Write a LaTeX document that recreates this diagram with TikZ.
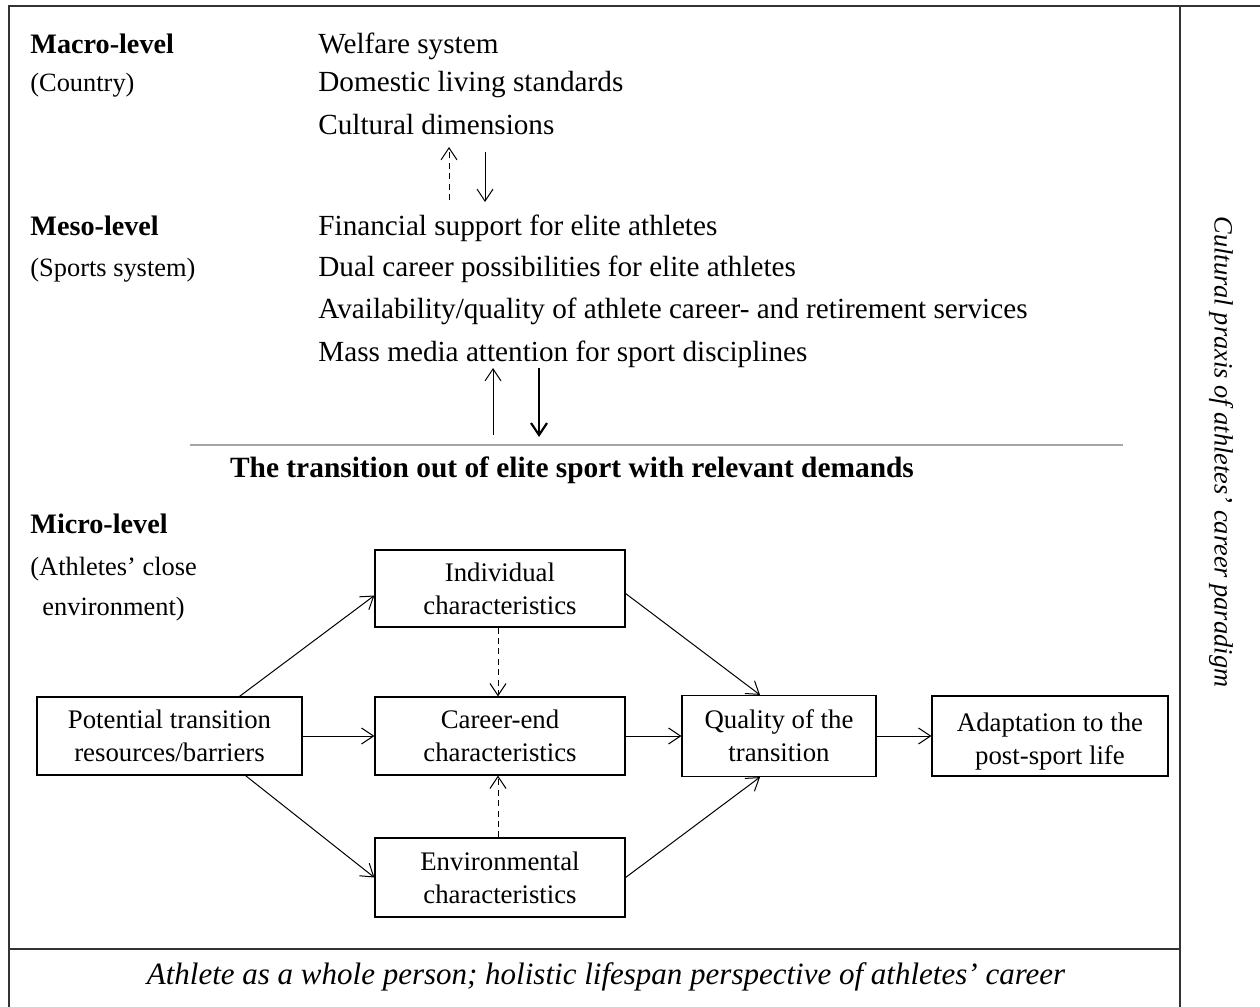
\documentclass[tikz,border=0pt]{standalone}
\usepackage{fontspec}
\setmainfont{Liberation Serif}
\usetikzlibrary{arrows.meta,calc}
\tikzset{
  x=0.5pt, y=-0.5pt,
  txt/.style={anchor=base west, inner sep=0pt, font=\fontsize{14.6}{16}\selectfont},
  lbl/.style={anchor=base west, inner sep=0pt, font=\fontsize{13.2}{15}\selectfont},
  hd/.style={anchor=base west, inner sep=0pt, font=\fontsize{14.1}{16}\selectfont\bfseries},
  box/.style={draw, line width=0.6pt, inner sep=0pt, align=center,
    font=\fontsize{13.4}{16.5}\selectfont},
  boxtext/.style={inner sep=0pt, align=center, font=\fontsize{13.4}{16.5}\selectfont},
  arr/.style={line width=0.5pt, -{Straight Barb[length=6pt,width=8pt]}},
  darr/.style={arr, dash pattern=on 3pt off 2.2pt},
  frame/.style={line width=0.9pt, draw=black!80}
}
\begin{document}
\begin{tikzpicture}
\useasboundingbox (0,0) rectangle (1260,1007);
% frame
\draw[frame] (9,1015) -- (9,6) -- (1265,6);
\draw[frame] (1180,6) -- (1180,1015);
\draw[frame] (9,949) -- (1180,949);
% side and bottom text
\node[rotate=-90, inner sep=0pt, font=\fontsize{13.2}{15}\selectfont\itshape] (side) at (1221,452) {Cultural praxis of athletes’ career paradigm};
\node[inner sep=0pt, font=\fontsize{15.5}{17}\selectfont\itshape] (bottom) at (606,977) {Athlete as a whole person; holistic lifespan perspective of athletes’ career};
% macro
\node[hd] (macro) at (30,53) {Macro-level};
\node[lbl] (country) at (30,91) {(Country)};
\node[txt] (welfare) at (318,53) {Welfare system};
\node[txt] (domestic) at (318,91) {Domestic living standards};
\node[txt] (cultural) at (318,134) {Cultural dimensions};
% meso
\node[hd] (meso) at (30,235) {Meso-level};
\node[lbl] (sports) at (30,276) {(Sports system)};
\node[txt] (financial) at (318,235) {Financial support for elite athletes};
\node[txt] (dual) at (318,276) {Dual career possibilities for elite athletes};
\node[txt] (avail) at (318,318) {Availability/quality of athlete career- and retirement services};
\node[txt] (media) at (318,361) {Mass media attention for sport disciplines};
% arrows between levels
\coordinate (a1s) at (449,200); \coordinate (a1e) at (449,147);
\coordinate (a2s) at (485,152); \coordinate (a2e) at (485,202);
\coordinate (a3s) at (493,435); \coordinate (a3e) at (493,368);
\coordinate (a4s) at (539,368); \coordinate (a4e) at (539,437);
\draw[darr] (a1s) -- (a1e);
\draw[arr] (a2s) -- (a2e);
\draw[arr] (a3s) -- (a3e);
\draw[arr, line width=1.1pt] (a4s) -- (a4e);
% gray line
\coordinate (gl) at (190,445); \coordinate (gr) at (1123,445);
\draw[black!35, line width=0.6pt] (gl) -- (gr);
\node[inner sep=0pt, font=\fontsize{14.7}{16}\selectfont\bfseries] (trans) at (572,470) {The transition out of elite sport with relevant demands};
% micro
\node[hd] (micro) at (30,533) {Micro-level};
\node[lbl] (close) at (30,575) {(Athletes’ close};
\node[lbl] (envt) at (42,615) {environment)};
% boxes
\node[box, minimum width=125pt, minimum height=38.5pt] (ind) at (500,588.5) {Individual\\characteristics};
\node[box, minimum width=132.5pt, minimum height=39pt] (pot) at (169.5,736) {Potential transition\\resources/barriers};
\node[box, minimum width=125pt, minimum height=39pt] (car) at (500,736) {Career-end\\characteristics};
\node[box, minimum width=97pt, minimum height=40.5pt] (qual) at (779,736) {Quality of the\\transition};
\node[box, minimum width=118pt, minimum height=40pt] (adap) at (1050,736) {};
\node[boxtext] (adaptxt) at ($(adap.center)+(0,6)$) {Adaptation to the\\post-sport life};
\node[box, minimum width=125pt, minimum height=39.5pt] (env) at (500,877.5) {Environmental\\characteristics};
% connectors
\draw[arr] ($(pot.north)+(70,0)$) -- ($(ind.west)+(0,7)$);
\draw[arr] (pot.east) -- (car.west);
\draw[arr] ($(pot.south)+(76,0)$) -- (env.west);
\draw[arr] ($(ind.east)+(0,5)$) -- ($(qual.north)+(-19,0)$);
\draw[arr] (car.east) -- (qual.west);
\draw[arr] (env.east) -- ($(qual.south)+(-19,0)$);
\draw[arr] (qual.east) -- (adap.west);
\draw[darr] ($(ind.south)+(-2,0)$) -- ($(car.north)+(-2,0)$);
\draw[darr] ($(env.north)+(-2,0)$) -- ($(car.south)+(-2,0)$);
\end{tikzpicture}
\end{document}
